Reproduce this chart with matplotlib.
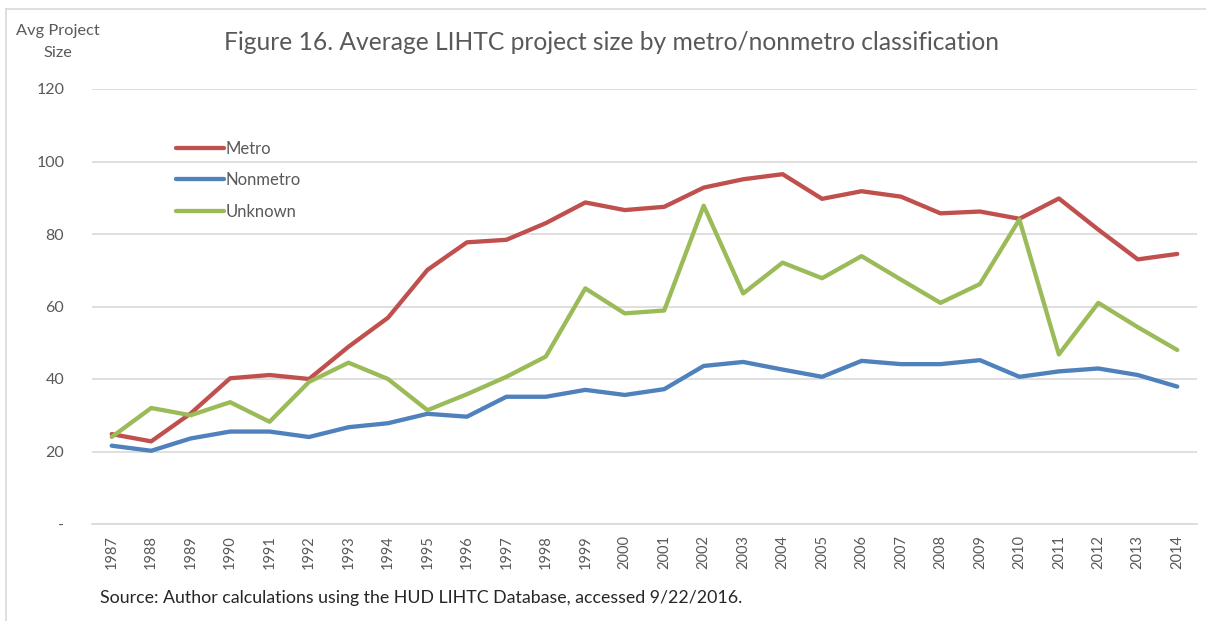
import matplotlib
matplotlib.use("Agg")
import matplotlib.pyplot as plt
from matplotlib.lines import Line2D

years = list(range(1987, 2015))
metro = [24.8, 22.8, 30.5, 40.2, 41.1, 40.0, 48.9, 56.9, 70.1, 77.7, 78.4, 83.0, 88.7,
         86.6, 87.5, 92.8, 95.1, 96.5, 89.7, 91.8, 90.3, 85.7, 86.2, 84.2, 89.8, 81.2,
         73.0, 74.5]
nonmetro = [21.6, 20.2, 23.6, 25.5, 25.5, 24.0, 26.7, 27.8, 30.4, 29.6, 35.1, 35.1, 37.0,
            35.6, 37.2, 43.6, 44.7, 42.6, 40.6, 45.0, 44.1, 44.1, 45.2, 40.6, 42.1, 42.9,
            41.1, 37.9]
unknown = [24.0, 32.0, 30.0, 33.6, 28.2, 39.2, 44.5, 40.0, 31.4, 35.8, 40.6, 46.2, 65.0,
           58.1, 58.9, 87.8, 63.6, 72.1, 67.8, 73.9, 67.4, 61.0, 66.2, 84.0, 46.8, 61.0,
           54.3, 48.0]
y_ticks = [0, 20, 40, 60, 80, 100, 120]
y_tick_labels = ["-", "20", "40", "60", "80", "100", "120"]

series = [("Metro", metro, "#C0504D"),
          ("Nonmetro", nonmetro, "#4F81BD"),
          ("Unknown", unknown, "#9BBB59")]

plt.rcParams["font.family"] = ["Lato", "DejaVu Sans"]
text_gray = "#595959"
grid_gray = "#D9D9D9"

fig = plt.figure(figsize=(12.06, 6.21), dpi=100)
ax = fig.add_axes([92 / 1206, 1 - 524 / 621, 1105 / 1206, 435 / 621])

for name, values, color in series:
    ax.plot(years, values, color=color, lw=3.1, label=name, solid_capstyle="round",
            solid_joinstyle="round", zorder=3)

ax.set_xlim(years[0] - 0.5, years[-1] + 0.5)
ax.set_ylim(0, 120)
ax.set_yticks(y_ticks)
ax.set_yticklabels(y_tick_labels)
ax.set_xticks(years)
ax.set_xticklabels([str(y) for y in years], rotation=90)
ax.tick_params(axis="both", length=0, colors=text_gray, labelsize=11.5)
ax.tick_params(axis="x", pad=8, labelsize=10.5)
ax.tick_params(axis="y", pad=20)
for lbl in ax.get_yticklabels():
    lbl.set_horizontalalignment("right")
ax.grid(axis="y", color=grid_gray, lw=1.2)
ax.set_axisbelow(True)
for s in ["top", "right", "left"]:
    ax.spines[s].set_visible(False)
ax.spines["bottom"].set_color(grid_gray)
ax.spines["bottom"].set_linewidth(1.2)

handles = [Line2D([0], [0], color=c, lw=3.1, solid_capstyle="round") for _, _, c in series]
leg = ax.legend(handles, [n for n, _, _ in series], loc="upper left",
                bbox_to_anchor=(0.062, 0.915), frameon=False, handlelength=2.9,
                handletextpad=0.1, labelspacing=0.92, fontsize=12)
for t in leg.get_texts():
    t.set_color(text_gray)

fig.text(611 / 1206, 1 - 42 / 621, "Figure 16. Average LIHTC project size by metro/nonmetro classification",
         ha="center", va="center", fontsize=17.7, color=text_gray)
fig.text(58 / 1206, 1 - 42 / 621, "Avg Project\nSize", ha="center", va="center",
         fontsize=11.8, color=text_gray, linespacing=1.75)
fig.text(100 / 1206, 1 - 598 / 621, "Source: Author calculations using the HUD LIHTC Database, accessed 9/22/2016.",
         ha="left", va="center", fontsize=12.75, color="#262626")

# partial chart border like the cropped Excel frame
fig.add_artist(Line2D([6 / 1206, 1], [1 - 9 / 621, 1 - 9 / 621], color=grid_gray, lw=1.2))
fig.add_artist(Line2D([6 / 1206, 6 / 1206], [0, 1 - 9 / 621], color=grid_gray, lw=1.2))

fig.savefig("out.png", dpi=100)
